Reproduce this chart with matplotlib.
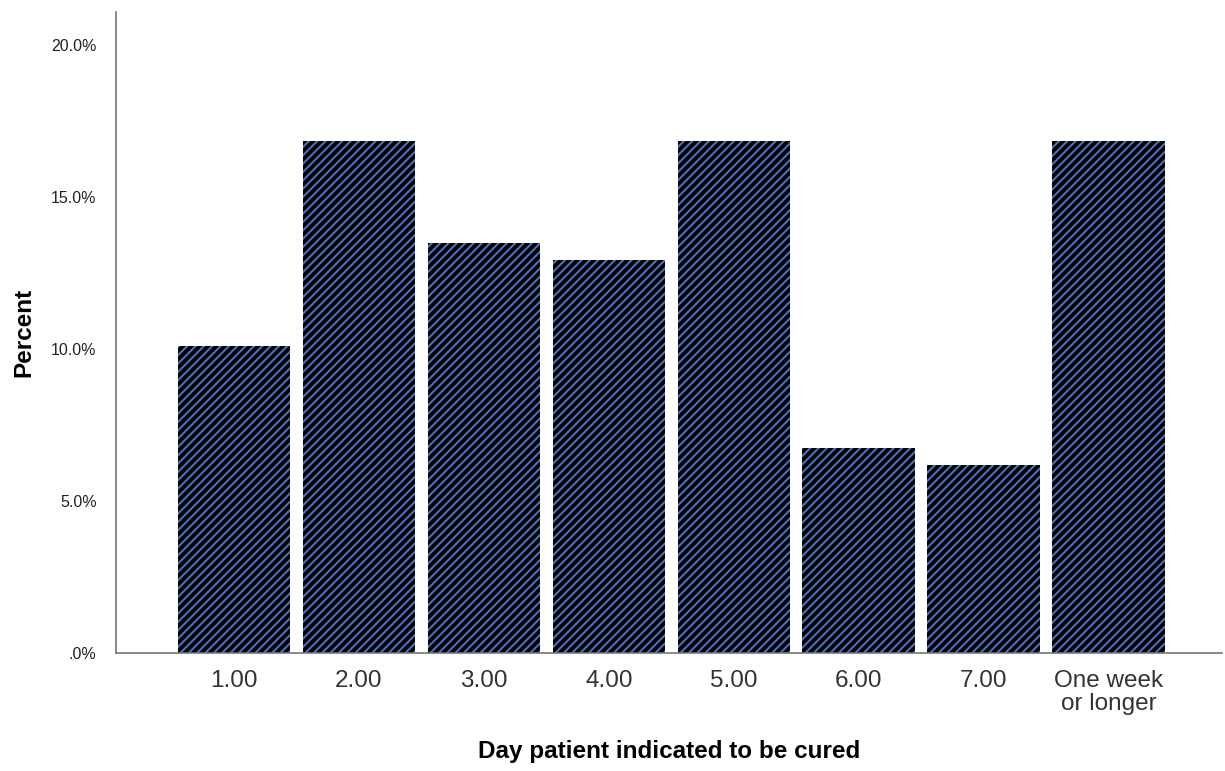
import matplotlib
matplotlib.use('Agg')
import matplotlib.pyplot as plt
from matplotlib.ticker import FuncFormatter

# percent of patients per day they were cured
categories = ['1.00', '2.00', '3.00', '4.00', '5.00', '6.00', '7.00', 'One week\nor longer']
percent = [10.11, 16.85, 13.48, 12.92, 16.85, 6.74, 6.18, 16.85]
yticks = [0, 5, 10, 15, 20]

plt.rcParams['font.family'] = ['Liberation Sans', 'DejaVu Sans']
plt.rcParams['hatch.linewidth'] = 1.5

fig = plt.figure(figsize=(12.25, 7.71), dpi=100)
ax = fig.add_axes([0.0947, 0.153, 0.903, 0.8314])

x = range(len(categories))
ax.bar(x, percent, width=0.9, color='black', edgecolor='#4a70c0',
       linewidth=0, hatch='////')

ax.set_xlim(-0.945, 7.91)
ax.set_ylim(0, 21.09)
ax.set_xticks(list(x))
ax.set_xticklabels(categories, fontsize=17.5, color='#333333', linespacing=1.1)
ax.set_yticks(yticks)
ax.yaxis.set_major_formatter(FuncFormatter(lambda v, p: '.0%' if v == 0 else '%.1f%%' % v))
ax.tick_params(axis='y', length=0, labelsize=11.5, pad=14, colors='#222222')
ax.tick_params(axis='x', length=0, pad=12)

for s in ['top', 'right']:
    ax.spines[s].set_visible(False)
for s in ['left', 'bottom']:
    ax.spines[s].set_color('#777777')
    ax.spines[s].set_linewidth(1.2)

ax.set_ylabel('Percent', fontsize=17.5, fontweight='bold', labelpad=11)
ax.set_xlabel('Day patient indicated to be cured', fontsize=17.5, fontweight='bold', labelpad=18)

fig.savefig('out.png', dpi=100)
